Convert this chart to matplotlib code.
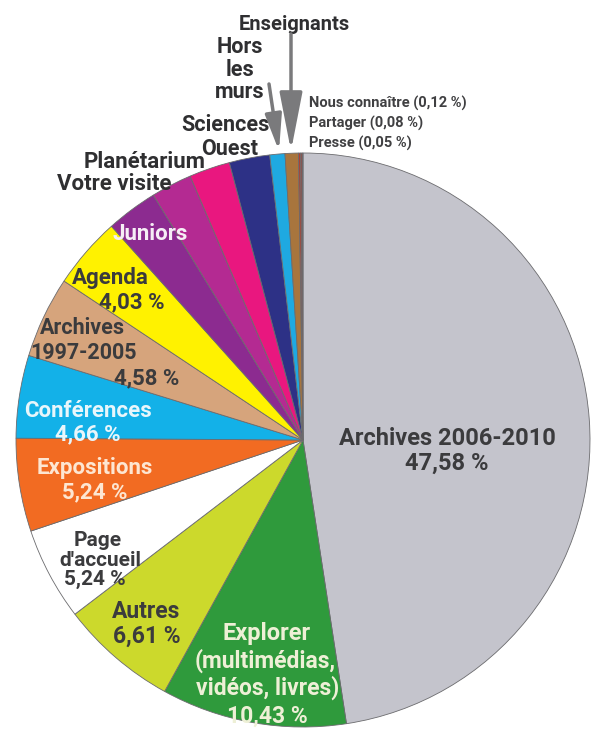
import matplotlib
matplotlib.use("Agg")
import matplotlib.pyplot as plt
from matplotlib.patches import ArrowStyle

# data (percent of visits, clockwise from 12 o'clock)
categories = ["Archives 2006-2010", "Explorer", "Autres", "Page d'accueil",
              "Expositions", "Conférences", "Archives 1997-2005", "Agenda",
              "Juniors", "Votre visite", "Planétarium", "Sciences Ouest",
              "Hors les murs", "Enseignants", "Nous connaître", "Partager", "Presse"]
values = [47.58, 10.43, 6.61, 5.24, 5.24, 4.66, 4.58, 4.03,
          2.90, 2.30, 2.30, 2.28, 0.85, 0.75, 0.12, 0.08, 0.05]
colors = ["#c4c4cc", "#2f9a3c", "#ccd92c", "#ffffff", "#f26b22", "#13b1e8",
          "#d6a47c", "#fff200", "#8c2b90", "#b42a92", "#e9177f", "#2d3186",
          "#1fa9e1", "#a8753d", "#b3402f", "#b03c2c", "#b5432f"]

W, H = 593, 729
FONT = ["Roboto", "DejaVu Sans"]
DARK = "#3b3b3d"


def Y(y):
    return H - y


fig = plt.figure(figsize=(W / 100, H / 100), dpi=100)
ax = fig.add_axes([0, 0, 1, 1])

ax.pie(values, colors=colors, startangle=90, counterclock=False,
       center=(303, Y(440)), radius=287, frame=True,
       wedgeprops=dict(edgecolor="#6b6b6e", linewidth=0.6))
ax.set_xlim(0, W)
ax.set_ylim(0, H)
ax.set_aspect("equal")
ax.axis("off")


def label(x, y, s, color=DARK, size=16, ha="center"):
    # y is the baseline in image coordinates
    ax.text(x, Y(y), s, ha=ha, va="baseline", fontsize=size, color=color,
            fontweight="bold", family=FONT)


label(447, 445, "Archives 2006-2010", size=17)
label(447, 470, "47,58 %", size=17)

EXP = "#eef0d6"
label(267, 640, "Explorer", color=EXP, size=17)
label(265, 668, "(multimédias,", color=EXP, size=16.5)
label(268, 695, "vidéos, livres)", color=EXP, size=16.5)
label(267, 723, "10,43 %", color=EXP, size=16.5)

label(146, 618, "Autres", size=16.5)
label(147, 643, "6,61 %", size=16.5)

label(98, 546, "Page", size=15)
label(100, 566, "d'accueil", size=15)
label(95, 585, "5,24 %", size=15)

label(95, 474, "Expositions", color="#fde6d2", size=16)
label(95, 498, "5,24 %", color="#fde6d2", size=16)

label(88, 417, "Conférences", color="#e8f6fb", size=16)
label(88, 440, "4,66 %", color="#e8f6fb", size=16)

label(82, 334, "Archives", size=15.5)
label(83, 359, "1997-2005", size=15.5)
label(147, 384, "4,58 %", size=16)

label(110, 284, "Agenda", size=16)
label(132, 308, "4,03 %", size=16)

label(150, 240, "Juniors", color="#f6eef6", size=16)
label(114, 190, "Votre visite", color="#2f2f31", size=16)
label(145, 168, "Planétarium", color="#2f2f31", size=16)
label(270, 131, "Sciences", color="#2f2f31", size=15.5, ha="right")
label(230, 155, "Ouest", color="#2f2f31", size=15.5)
label(240, 53, "Hors", color="#2f2f31", size=15.5)
label(240, 76, "les", color="#2f2f31", size=15.5)
label(240, 98, "murs", color="#2f2f31", size=15.5)
label(294, 30, "Enseignants", color="#2f2f31", size=14.5)

for i, s in enumerate(["Nous connaître (0,12 %)", "Partager (0,08 %)", "Presse (0,05 %)"]):
    label(309, 108 + i * 20, s, size=10.5, ha="left", color="#404042")

# arrows to the thin slices
ax.annotate("", xy=(291, Y(151)), xytext=(291, Y(34)),
            arrowprops=dict(arrowstyle=ArrowStyle("-|>", head_length=1.8, head_width=0.35),
                            mutation_scale=20, lw=2.5, color="#7a7a7c",
                            shrinkA=0, shrinkB=0))
ax.annotate("", xy=(279, Y(151)), xytext=(269, Y(84)),
            arrowprops=dict(arrowstyle=ArrowStyle("-|>", head_length=1.1, head_width=0.25),
                            mutation_scale=20, lw=2.5, color="#7a7a7c",
                            shrinkA=0, shrinkB=0))

fig.savefig("out.png", dpi=100)
